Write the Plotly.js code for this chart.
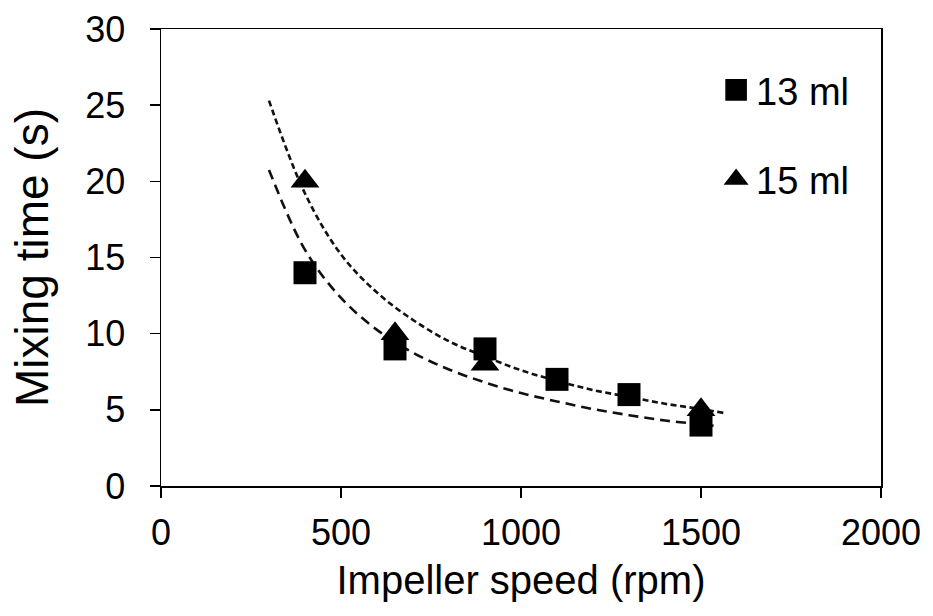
<!DOCTYPE html>
<html><head><meta charset="utf-8">
<script src="https://cdn.plot.ly/plotly-3.0.1.min.js"></script>
<style>html,body{margin:0;padding:0;background:#fff}#chart{width:933px;height:616px}</style>
</head><body><div id="chart"></div>
<script>
// Measured data
const speed13 = [400, 650, 900, 1100, 1300, 1500];
const time13  = [14, 9, 9, 7, 6, 4];
const speed15 = [400, 650, 900, 1500];
const time15  = [20, 10, 8, 5];

// Trend curves, values
const trendSpeed13 = [300, 400, 500, 600, 700, 800, 900, 1000, 1100, 1200, 1300, 1400, 1500, 1535];
const trendTime13  = [20.75, 15.5, 12.35, 10.25, 8.75, 7.65, 6.8, 6.1, 5.55, 5.05, 4.65, 4.3, 4.05, 3.95];
const trendSpeed15 = [300, 400, 500, 600, 700, 800, 900, 1000, 1100, 1200, 1300, 1400, 1500, 1562];
const trendTime15  = [25.3, 19.2, 15.2, 12.7, 10.9, 9.5, 8.5, 7.6, 6.9, 6.3, 5.85, 5.4, 5.05, 4.8];

const seriesNames = ['13 ml', '15 ml'];
const xTicks = [0, 500, 1000, 1500, 2000];
const yTicks = [0, 5, 10, 15, 20, 25, 30];

const FONT = 'Arial, "Liberation Sans", sans-serif';

const traces = [
  {x: trendSpeed13, y: trendTime13, mode: 'lines', type: 'scatter', showlegend: false, hoverinfo: 'skip',
   line: {color: '#111', width: 2.6, dash: '10px,6px', shape: 'spline'}},
  {x: trendSpeed15, y: trendTime15, mode: 'lines', type: 'scatter', showlegend: false, hoverinfo: 'skip',
   line: {color: '#111', width: 2.6, dash: '6px,3.5px', shape: 'spline'}},
  {x: speed13, y: time13, mode: 'markers', type: 'scatter', name: seriesNames[0], legendgroup: 'a',
   marker: {symbol: 'square', size: 23, color: '#000'}},
  {x: speed15, y: time15, mode: 'markers', type: 'scatter', name: seriesNames[1], legendgroup: 'b',
   marker: {symbol: 'triangle-up', size: 25, color: '#000'}}
];

const axisCommon = {
  showgrid: false, zeroline: false, showline: true, mirror: true,
  linecolor: '#000', linewidth: 1.5,
  ticks: 'outside', ticklen: 10, tickwidth: 1.5, tickcolor: '#000',
  tickfont: {family: FONT, size: 36, color: '#000'},
  fixedrange: true
};

const layout = {
  width: 933, height: 616,
  margin: {l: 161, r: 52, t: 29, b: 130},
  paper_bgcolor: '#fff', plot_bgcolor: '#fff',
  font: {family: FONT, color: '#000'},
  xaxis: Object.assign({}, axisCommon, {
    range: [0, 2000], tickmode: 'array', tickvals: xTicks, ticklabelstandoff: 4,
    title: {text: 'Impeller speed (rpm)', font: {family: FONT, size: 40, color: '#000'}, standoff: 14}
  }),
  yaxis: Object.assign({}, axisCommon, {
    range: [0, 30], tickmode: 'array', tickvals: yTicks, ticklabelstandoff: 17,
    title: {text: 'Mixing time (s)', font: {family: FONT, size: 46, color: '#000'}, standoff: 22}
  }),
  legend: {
    x: 0.771, y: 0.935, xanchor: 'left', yanchor: 'top',
    font: {family: FONT, size: 38, color: '#000'},
    bgcolor: 'rgba(0,0,0,0)', borderwidth: 0,
    traceorder: 'grouped', tracegroupgap: 37
  },
  showlegend: true
};

function enlargeLegendSymbols(gd) {
  gd.querySelectorAll('.legend .legendpoints path').forEach(function (p) {
    var t = (p.getAttribute('transform') || '').replace(/\s*scale\([^)]*\)/g, '');
    p.setAttribute('transform', t + ' scale(1.35)');
  });
}

Plotly.newPlot('chart', traces, layout, {displayModeBar: false, staticPlot: true}).then(function (gd) {
  enlargeLegendSymbols(gd);
  gd.on('plotly_afterplot', function () { enlargeLegendSymbols(gd); });
});
</script>
</body></html>
